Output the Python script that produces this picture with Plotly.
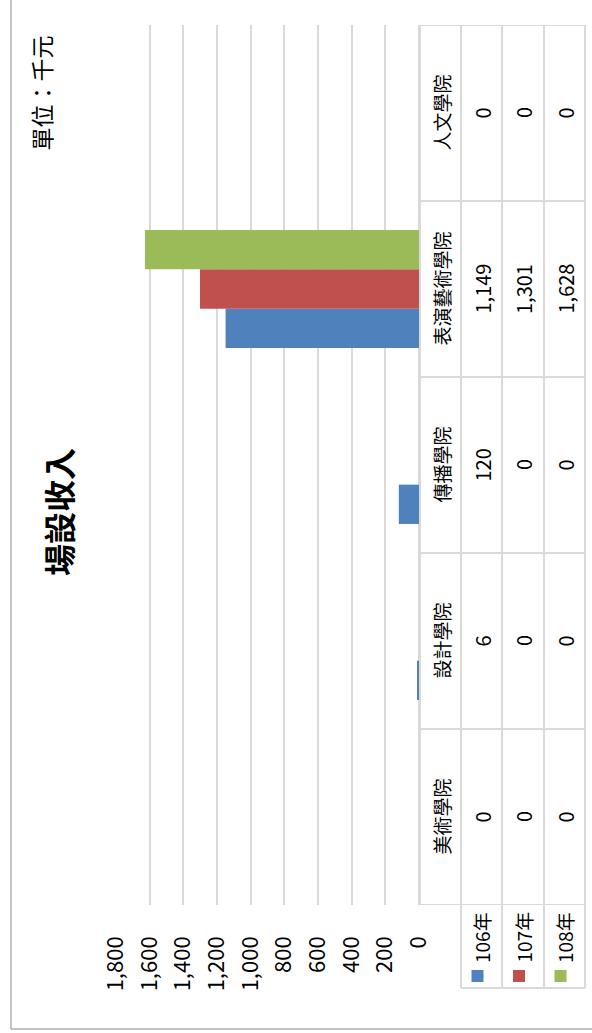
import plotly.graph_objects as go

# ---- data ----
categories = ["美術學院", "設計學院", "傳播學院", "表演藝術學院", "人文學院"]
series_names = ["106年", "107年", "108年"]
v106 = [0, 6, 120, 1149, 0]
v107 = [0, 0, 0, 1301, 0]
v108 = [0, 0, 0, 1628, 0]
series_values = [v106, v107, v108]
series_colors = ["#4F81BD", "#C0504D", "#9BBB59"]
x_ticks = [0, 200, 400, 600, 800, 1000, 1200, 1400, 1600, 1800]
title_text = "場設收入"
unit_text = "單位：千元"

# ---- layout helpers (pixel -> paper) ----
W, H = 592, 1033
L, R, T, B = 116, 419, 25, 905
def px(x):
    return (x - L) / (R - L)
def py(y):
    return (B - y) / (B - T)

FONT = "Noto Sans CJK TC"
GRID = "#D9D9D9"

fig = go.Figure()
for name, vals, col in zip(series_names, series_values, series_colors):
    fig.add_trace(go.Bar(
        y=categories, x=vals, name=name, orientation="h",
        marker=dict(color=col, line=dict(width=0)),
        showlegend=False, hoverinfo="x+y+name",
    ))

shapes = []
annotations = []

# table column edges (pixels)
col_edges = [420, 461, 502, 544, 585]
col_centers = [(col_edges[i] + col_edges[i + 1]) / 2 for i in range(4)]

# horizontal lines at category boundaries (data y coords)
for k in range(len(categories) + 1):
    shapes.append(dict(type="line", xref="paper", yref="y",
                       x0=px(col_edges[0]), x1=px(col_edges[-1]),
                       y0=k - 0.5, y1=k - 0.5,
                       line=dict(color=GRID, width=2)))
# vertical lines
shapes.append(dict(type="line", xref="paper", yref="paper",
                   x0=px(col_edges[0]), x1=px(col_edges[0]), y0=0, y1=1,
                   line=dict(color=GRID, width=2)))
legend_bottom = 988
for xe in col_edges[1:]:
    shapes.append(dict(type="line", xref="paper", yref="paper",
                       x0=px(xe), x1=px(xe), y0=py(legend_bottom), y1=1,
                       line=dict(color=GRID, width=2)))
shapes.append(dict(type="line", xref="paper", yref="paper",
                   x0=px(col_edges[1]), x1=px(col_edges[-1]),
                   y0=py(legend_bottom), y1=py(legend_bottom),
                   line=dict(color=GRID, width=2)))

# outer chart border
shapes.append(dict(type="line", xref="paper", yref="paper",
                   x0=px(11), x1=px(11), y0=py(-5), y1=py(1029),
                   line=dict(color="#868686", width=1)))
shapes.append(dict(type="line", xref="paper", yref="paper",
                   x0=px(11), x1=px(600), y0=py(1029), y1=py(1029),
                   line=dict(color="#868686", width=1)))

# table text
for i, cat in enumerate(categories):
    annotations.append(dict(xref="paper", yref="y", x=px(col_centers[0]), y=cat,
                            text=cat, textangle=-90, showarrow=False,
                            xanchor="center", yanchor="middle",
                            font=dict(family=FONT, size=19, color="#000")))
    for j, vals in enumerate(series_values):
        annotations.append(dict(xref="paper", yref="y", x=px(col_centers[j + 1]), y=cat,
                                text=f"{vals[i]:,}", textangle=-90, showarrow=False,
                                xanchor="center", yanchor="middle",
                                font=dict(family=FONT, size=20, color="#000")))

# legend cells
for j, (name, col) in enumerate(zip(series_names, series_colors)):
    cx = col_centers[j + 1]
    annotations.append(dict(xref="paper", yref="paper", x=px(cx), y=py(937.5),
                            text=name, textangle=-90, showarrow=False,
                            xanchor="center", yanchor="middle",
                            font=dict(family=FONT, size=19, color="#000")))
    shapes.append(dict(type="rect", xref="paper", yref="paper",
                       x0=px(cx - 10), x1=px(cx + 2), y0=py(982), y1=py(970),
                       fillcolor=col, line=dict(width=0)))

# title and unit
annotations.append(dict(xref="paper", yref="paper", x=px(58), y=py(512),
                        text=f"<b>{title_text}</b>", textangle=-90, showarrow=False,
                        xanchor="center", yanchor="middle",
                        font=dict(family=FONT, size=32, color="#000")))
annotations.append(dict(xref="paper", yref="paper", x=px(40), y=py(34),
                        text=unit_text, textangle=-90, showarrow=False,
                        xanchor="center", yanchor="top",
                        font=dict(family=FONT, size=23, color="#000")))

fig.update_layout(
    width=W, height=H,
    margin=dict(l=L, r=W - R, t=T, b=H - B, pad=0, autoexpand=False),
    paper_bgcolor="white", plot_bgcolor="white",
    barmode="group", bargap=0.33, bargroupgap=0,
    shapes=shapes, annotations=annotations,
    xaxis=dict(range=[1800, 0], tickvals=x_ticks, tickformat=",",
               tickangle=-90, showgrid=True, gridcolor=GRID, gridwidth=2,
               zeroline=True, zerolinecolor=GRID, zerolinewidth=2,
               showline=False, ticks="", ticklabelstandoff=26, automargin=False,
               tickfont=dict(family=FONT, size=22, color="#000")),
    yaxis=dict(range=[-0.5, 4.5], showticklabels=False, showgrid=False,
               zeroline=False, showline=False, ticks="", automargin=False),
    font=dict(family=FONT),
)

fig.write_html("out.html", config={"displayModeBar": False},
               post_script="document.body.style.margin='0';document.body.style.padding='0';")
